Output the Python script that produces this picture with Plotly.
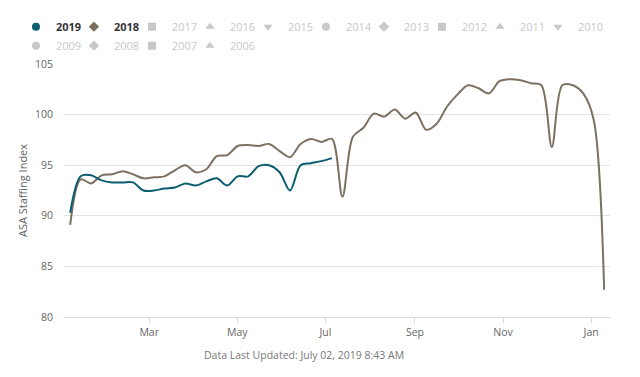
import pandas as pd
import plotly.graph_objects as go

# ---- data ----
values_2018 = [89.1, 93.6, 93.2, 94.0, 94.1, 94.4, 94.1, 93.7, 93.8, 93.9,
               94.5, 95.0, 94.3, 94.6, 95.9, 96.0, 96.9, 97.0, 96.9, 97.1,
               96.4, 95.8, 97.1, 97.6, 97.3, 97.6, 91.9, 97.8, 98.7, 100.1,
               99.8, 100.5, 99.6, 100.2, 98.5, 99.1, 100.8, 102.0, 102.9, 102.6,
               102.1, 103.3, 103.5, 103.4, 103.1, 102.9, 96.8, 102.9, 102.9, 102.1,
               99.5, 82.7]
values_2019 = [90.3, 93.9, 94.0, 93.5, 93.3, 93.3, 93.3, 92.5, 92.5, 92.7,
               92.8, 93.2, 93.0, 93.4, 93.7, 93.0, 93.9, 93.9, 94.9, 95.0,
               94.3, 92.5, 95.0, 95.2, 95.4, 95.7]

# weekly positions on the common (one-year) date axis
week_dates_2018 = pd.date_range("2018-01-05 07:00", periods=len(values_2018), freq="174h")
week_dates_2019 = pd.date_range("2018-01-05 07:00", periods=len(values_2019), freq="174h")

tick_dates = ["2018-03-01", "2018-05-01", "2018-07-01", "2018-09-01", "2018-11-01", "2019-01-01"]
tick_labels = ["Mar", "May", "Jul", "Sep", "Nov", "Jan"]
y_ticks = [80, 85, 90, 95, 100, 105]

hidden_years = ["2017", "2016", "2015", "2014", "2013", "2012", "2011", "2010",
                "2009", "2008", "2007", "2006"]
hidden_symbols = ["square", "triangle-up", "triangle-down", "circle", "diamond", "square",
                  "triangle-up", "triangle-down", "circle", "diamond", "square", "triangle-up"]

C2019 = "#0d5d70"
C2018 = "#7c7060"
CHID = "#c8c8c8"
FONT = "Open Sans"

fig = go.Figure()

# actual lines
fig.add_trace(go.Scatter(x=week_dates_2018, y=values_2018, mode="lines",
                         line=dict(color=C2018, width=2, shape="spline", smoothing=0.9),
                         showlegend=False, name="2018", hoverinfo="skip"))
fig.add_trace(go.Scatter(x=week_dates_2019, y=values_2019, mode="lines",
                         line=dict(color=C2019, width=2, shape="spline", smoothing=0.9),
                         showlegend=False, name="2019", hoverinfo="skip"))

# legend entries
fig.add_trace(go.Scatter(x=[None], y=[None], mode="markers", name="<b>2019</b>",
                         marker=dict(color=C2019, size=8, symbol="circle")))
fig.add_trace(go.Scatter(x=[None], y=[None], mode="markers", name="<b>2018</b>",
                         marker=dict(color=C2018, size=8, symbol="diamond")))
for yr, sym in zip(hidden_years, hidden_symbols):
    fig.add_trace(go.Scatter(x=[None], y=[None], mode="markers",
                             name=f"<span style='color:{CHID}'>{yr}</span>",
                             marker=dict(color=CHID, size=8, symbol=sym)))

fig.update_layout(
    width=640, height=377,
    margin=dict(l=64, r=30, t=64, b=60, autoexpand=False),
    paper_bgcolor="white", plot_bgcolor="white",
    font=dict(family=FONT, size=11, color="#333333"),
    legend=dict(orientation="h", x=-0.0605, xanchor="left", y=1.205, yanchor="top",
                entrywidth=28, entrywidthmode="pixels", indentation=-15,
                font=dict(family=FONT, size=11, color="#333333"),
                bgcolor="rgba(0,0,0,0)", itemclick=False, itemdoubleclick=False),
    xaxis=dict(type="date", range=["2018-01-01", "2019-01-14 02:00"],
               tickvals=tick_dates, ticktext=tick_labels, automargin=False,
               showgrid=False, zeroline=False,
               showline=True, linecolor="#d9d9d9", linewidth=1,
               ticks="outside", ticklen=5, tickcolor="#d9d9d9",
               tickfont=dict(family=FONT, size=10.5, color="#666666")),
    yaxis=dict(range=[80, 105], tickvals=y_ticks, automargin=False,
               showgrid=True, gridcolor="#e3e3e3", gridwidth=1, zeroline=False,
               showline=False, ticks="", ticklabelstandoff=10,
               tickfont=dict(family=FONT, size=10.5, color="#666666"),
               title=dict(text="ASA Staffing Index", standoff=5,
                          font=dict(family=FONT, size=11, color="#666666"))),
    annotations=[dict(text="Data Last Updated: July 02, 2019 8:43 AM",
                      xref="paper", yref="paper", x=0.44, y=-0.15,
                      xanchor="center", yanchor="middle", showarrow=False,
                      font=dict(family=FONT, size=10.5, color="#777777"))],
)

fig.write_html("out.html", config={"displayModeBar": False},
               post_script="document.body.style.margin='0';")
